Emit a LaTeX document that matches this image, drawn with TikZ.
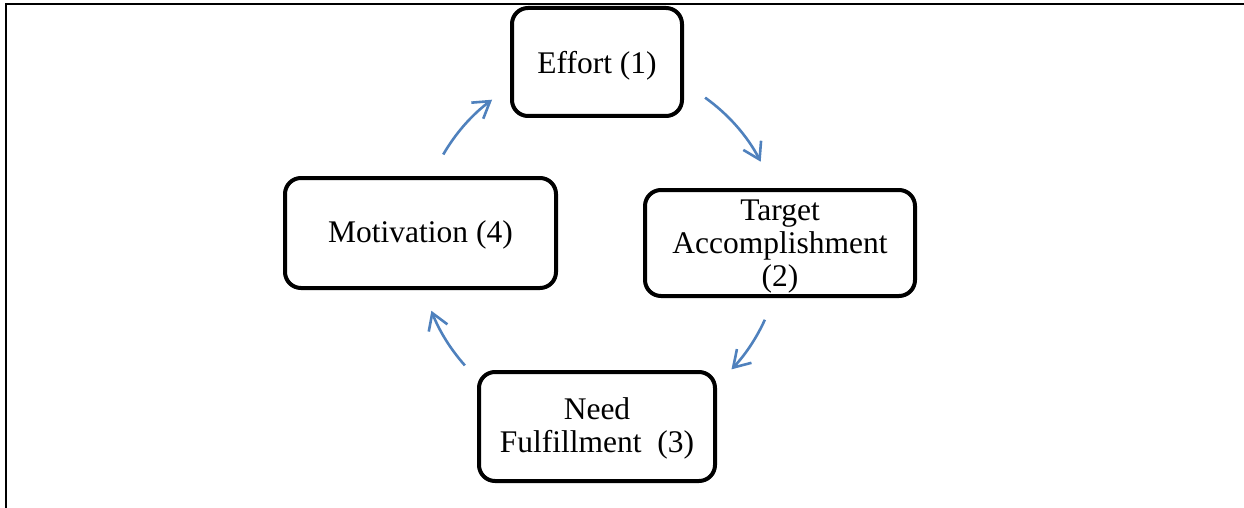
\documentclass[tikz,border=0pt]{standalone}
\usepackage{fontspec}
\setmainfont{Liberation Serif}
\usetikzlibrary{arrows.meta}
\definecolor{flowblue}{RGB}{79,129,189}
\begin{document}
\begin{tikzpicture}[x=1pt,y=-1pt,
  stage/.style={draw=black, line width=4pt, rounded corners=16pt, inner sep=0pt},
  stagetext/.style={align=center, inner sep=0pt, font=\fontsize{31.5}{33}\selectfont},
  flow/.style={draw=flowblue, line width=2.6pt,
    -{Straight Barb[length=16pt,width=20pt]}}]
  \useasboundingbox (0,0) rectangle (1244,508);
  % open frame: top and left edges only
  \draw[line width=2pt] (6,508) -- (6,4) -- (1244,4);
  % the four stages of the cycle
  \node[stage, minimum width=170pt, minimum height=108pt,
    label={[stagetext, yshift=-4pt]center:Effort (1)}] (effort) at (597,62) {};
  \node[stage, minimum width=270pt, minimum height=106pt,
    label={[stagetext, yshift=-4pt]center:{Target\\Accomplishment\\(2)}}] (target) at (780,243) {};
  \node[stage, minimum width=236pt, minimum height=109pt,
    label={[stagetext, yshift=-2pt]center:{Need\\Fulfillment\ \ (3)}}] (need) at (597,426.5) {};
  \node[stage, minimum width=271pt, minimum height=110pt,
    label={[stagetext, yshift=-2pt]center:Motivation (4)}] (motiv) at (420.5,233) {};
  % curved arrows on a common circle
  \coordinate (ctr) at (600,245);
  \draw[flow] ([shift={(150:181pt)}]ctr) arc[start angle=150, end angle=126.6, radius=181pt];
  \draw[flow] ([shift={(54.5:181pt)}]ctr) arc[start angle=54.5, end angle=27.4, radius=181pt];
  \draw[flow] ([shift={(-24.4:181pt)}]ctr) arc[start angle=-24.4, end angle=-43.4, radius=181pt];
  \draw[flow] ([shift={(221.7:181pt)}]ctr) arc[start angle=221.7, end angle=201.3, radius=181pt];
\end{tikzpicture}
\end{document}
